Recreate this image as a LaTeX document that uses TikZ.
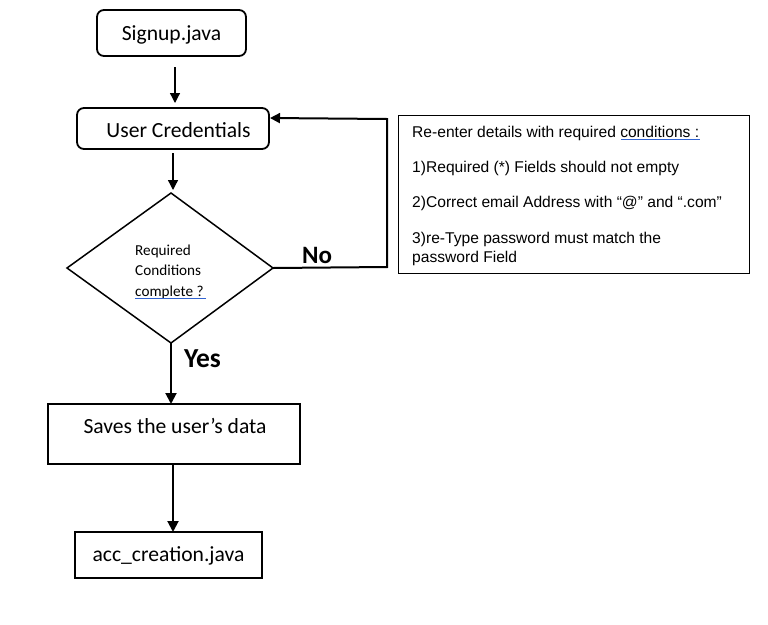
\documentclass[tikz,border=0pt]{standalone}
\usepackage{fontspec}
\setmainfont{Carlito}
\newfontfamily\arialfont{Liberation Sans}
\usetikzlibrary{arrows.meta}
\definecolor{spellblue}{RGB}{50,100,210}
\begin{document}
\begin{tikzpicture}[x=1pt,y=-1pt,
  boxr/.style={draw,line width=1.8pt,rounded corners=7pt},
  boxs/.style={draw,line width=1.8pt},
  conn/.style={line width=1.3pt,-{Triangle[width=10pt,length=10pt]}},
  connb/.style={line width=2pt,-{Triangle[width=11pt,length=11pt]}},
  lbl/.style={font=\fontsize{21.6}{26}\selectfont,inner sep=0pt,anchor=base},
  yn/.style={font=\fontsize{25}{28}\selectfont\bfseries,inner sep=0pt,anchor=base},
  dtext/.style={font=\fontsize{15.2}{20.7}\selectfont,anchor=base west,inner sep=0pt},
  note/.style={font=\arialfont\fontsize{15.6}{20}\selectfont,anchor=base west,inner sep=0pt},
  spell/.style={spellblue,line width=0.9pt}]
\useasboundingbox (0,0) rectangle (768,624);
% boxes
\draw[boxr] (97,10) rectangle (246,56);
\node[lbl] (signup) at (171.5,40.5) {Signup.java};
\coordinate (signupB) at (175,67);
\draw[boxr] (77,108) rectangle (269,149);
\node[lbl] (usercred) at (178.5,137) {User Credentials};
\coordinate (ucB) at (173,153);
\coordinate (ucR) at (270,118);
% diamond
\coordinate (dT) at (171,193);
\coordinate (dL) at (67,268);
\coordinate (dR) at (273,268);
\coordinate (dB) at (171,343);
\draw[line width=1.5pt,line join=miter] (dT) -- (dR) -- (dB) -- (dL) -- cycle;
\node[dtext] (cond1) at (135,255) {Required};
\node[dtext] (cond2) at (135,275.5) {Conditions};
\node[dtext] (cond3) at (135,296) {complete ?};
\draw[spell] (135,298.5) -- (206,298.5);
% saves
\draw[boxs] (48,404) rectangle (300,464);
\node[lbl] (saves) at (175,433) {Saves the user’s data};
\draw[boxs] (75,532) rectangle (262,578);
\node[lbl] (acc) at (168.5,561) {acc\_creation.java};
% note box
\draw[line width=1pt] (398,115) rectangle (749,273);
\node[note] (note1) at (412,137) {Re-enter details with required conditions :};
\draw[spell] (621,139.5) -- (700,139.5);
\node[note] (note2) at (412,172) {1)Required (*) Fields should not empty};
\node[note] (note3) at (412,207) {2)Correct email Address with “@” and “.com”};
\node[note] (note4) at (412,243) {3)re-Type password must match the};
\node[note] (note5) at (412,262) {password Field};
% connectors
\draw[conn] (signupB) -- (175,103);
\draw[conn] (ucB) -- (173,190);
\coordinate (corner1) at (387,267);
\coordinate (corner2) at (387,119);
\draw[line width=2pt,-{Triangle[width=10pt,length=10pt]}] (dR) -- (corner1) -- (corner2) -- (ucR);
\node[yn] (no) at (317,263) {No};
\coordinate (savesT) at (171,404);
\draw[connb] (dB) -- (savesT);
\node[yn,font=\fontsize{27.5}{30}\selectfont\bfseries] (yes) at (202.5,367) {Yes};
\coordinate (savesB) at (173,464);
\coordinate (accT) at (173,532);
\draw[connb] (savesB) -- (accT);
\end{tikzpicture}
\end{document}
